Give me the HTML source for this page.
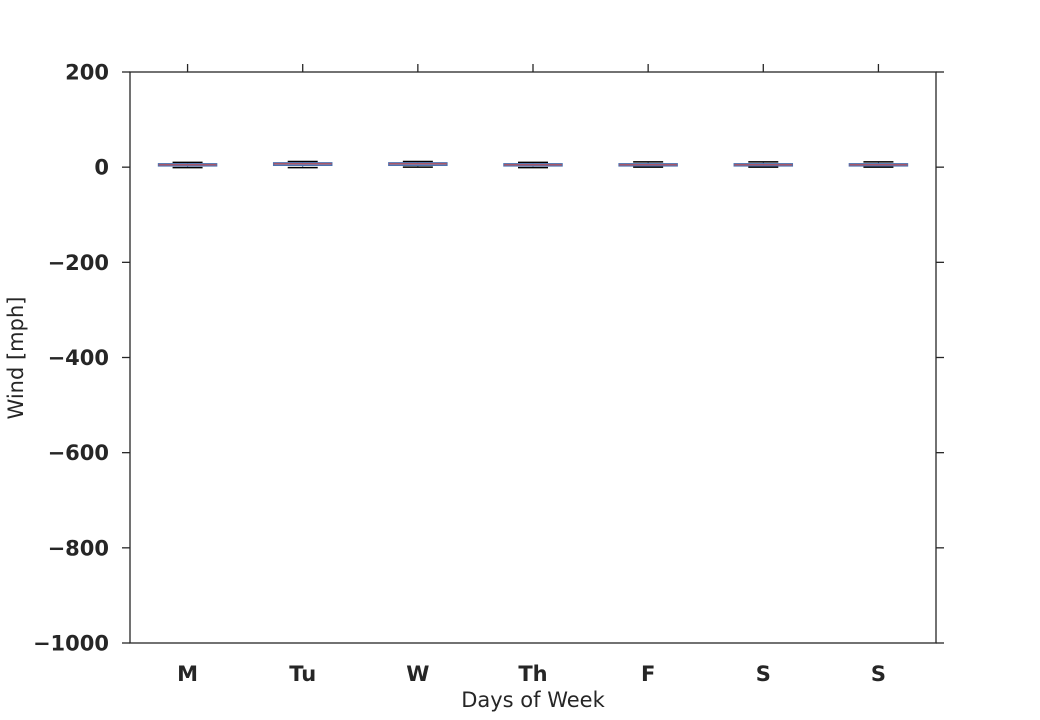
<!DOCTYPE html>
<html><head><meta charset="utf-8"><style>
body{margin:0;background:#fff;}
svg text{font-family:"DejaVu Sans","Liberation Sans",sans-serif;fill:#262626;}
</style></head><body>
<svg id="chart" width="1040" height="715" xmlns="http://www.w3.org/2000/svg"></svg>
<script>
const categories=["M","Tu","W","Th","F","S","S"];
const whiskerLow=[-1,-1,0,-1,0,0,0];
const q1=[3,4,4,3,3,3,3];
const medians=[5,7,7,5,5,5,5];
const q3=[7,9,9,7,7,7,7];
const whiskerHigh=[10,12,12,10,11,11,11];
const yTicks=[200,0,-200,-400,-600,-800,-1000];
const yTickLabels=["200","0","\u2212200","\u2212400","\u2212600","\u2212800","\u22121000"];
const svg=document.getElementById('chart');
const NS="http://www.w3.org/2000/svg";
const L=130,R=936,T=72,B=643,yMin=-1000,yMax=200;
const y=v=>T+(yMax-v)/(yMax-yMin)*(B-T);
const step=(R-L)/categories.length;
const x=i=>L+step*(i+0.5);
function mk(tag,attrs,parent){const e=document.createElementNS(NS,tag);for(const k in attrs)e.setAttribute(k,attrs[k]);(parent||svg).appendChild(e);return e;}
const frame=mk('rect',{x:L,y:T,width:R-L,height:B-T,fill:'none',stroke:'#262626','stroke-width':1.3});


yTicks.forEach((v,i)=>{
  const g=mk('g',{});
  
  
  mk('line',{x1:L-8,x2:L,y1:y(v),y2:y(v),stroke:'#262626','stroke-width':1.3},g);
  mk('line',{x1:R,x2:R+8,y1:y(v),y2:y(v),stroke:'#262626','stroke-width':1.3},g);
  const t=mk('text',{x:L-21,y:y(v)+7.5,'text-anchor':'end','font-size':21,'font-weight':'bold'},g);
  t.textContent=yTickLabels[i];
});
categories.forEach((c,i)=>{
  const cx=x(i);
  const g=mk('g',{});
  
  
  mk('line',{x1:cx,x2:cx,y1:T-8,y2:T,stroke:'#262626','stroke-width':1.3},g);
  mk('line',{x1:cx,x2:cx,y1:y(whiskerHigh[i]),y2:y(whiskerLow[i]),stroke:'#4c72b0','stroke-width':1},g);
  mk('line',{x1:cx-15,x2:cx+15,y1:y(whiskerHigh[i]),y2:y(whiskerHigh[i]),stroke:'#000','stroke-width':1.5},g);
  mk('line',{x1:cx-15,x2:cx+15,y1:y(whiskerLow[i]),y2:y(whiskerLow[i]),stroke:'#000','stroke-width':1.5},g);
  mk('rect',{x:cx-29,y:y(q3[i]),width:58,height:Math.max(2,y(q1[i])-y(q3[i])),fill:'#ccd3e6',stroke:'#4c72b0','stroke-width':1.5},g);
  mk('line',{x1:cx-29,x2:cx+29,y1:y(medians[i]),y2:y(medians[i]),stroke:'#c44e52','stroke-width':1.2},g);
  const t=mk('text',{x:cx,y:681,'text-anchor':'middle','font-size':21,'font-weight':'bold'},g);
  t.textContent=c;
});
const xt=mk('text',{x:533,y:707,'text-anchor':'middle','font-size':21});
xt.textContent="Days of Week";


const yt=mk('text',{x:23,y:358,'text-anchor':'middle','font-size':21,transform:'rotate(-90 23 358)'});
yt.textContent="Wind [mph]";


</script>
</body></html>
